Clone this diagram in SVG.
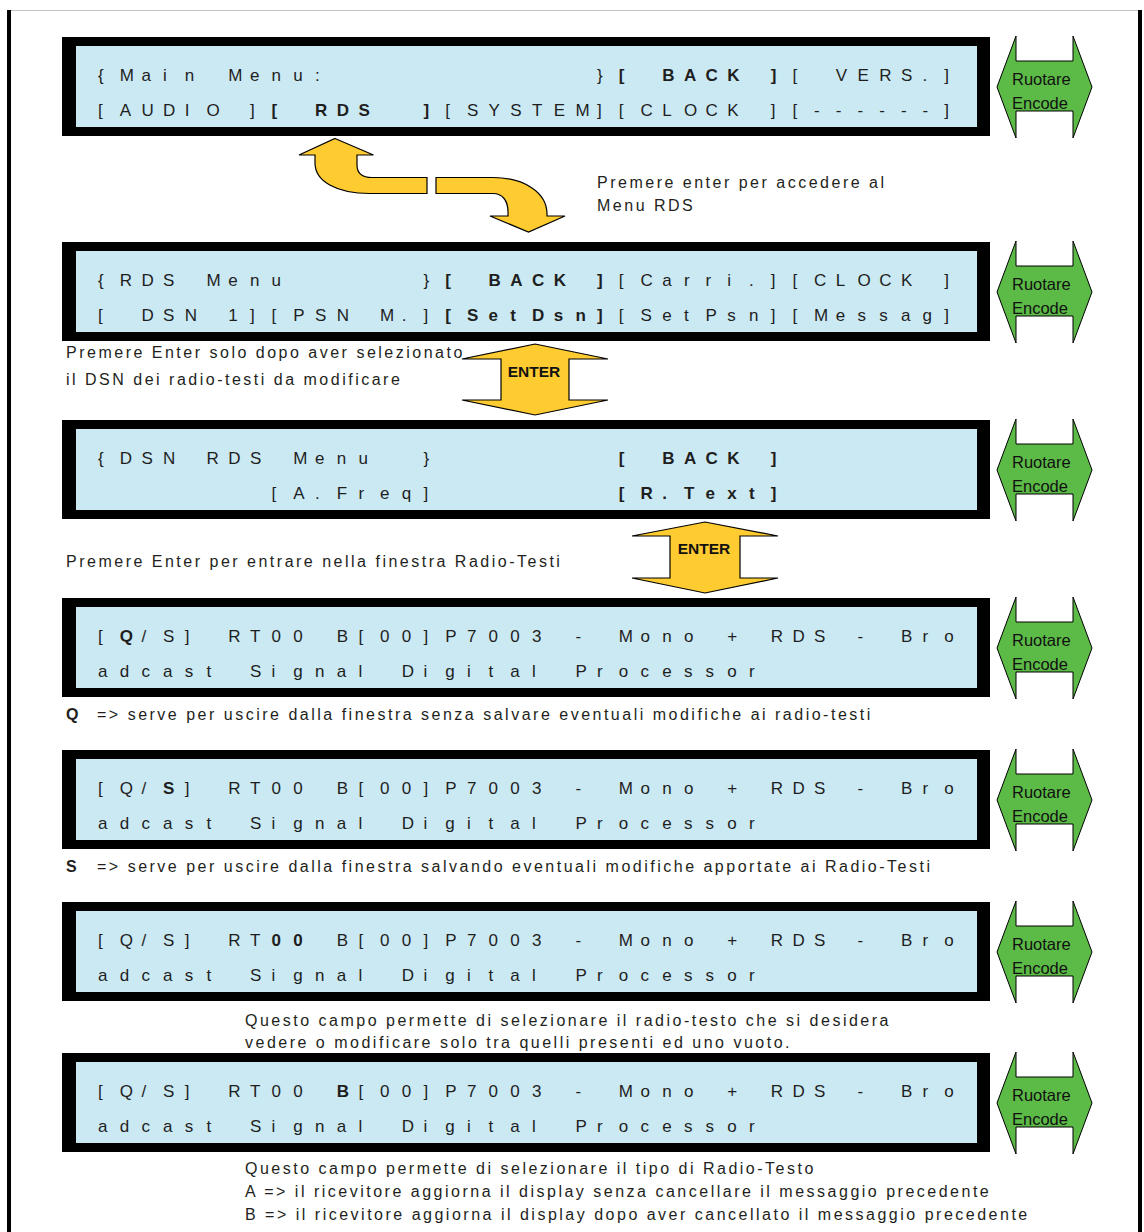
<svg xmlns="http://www.w3.org/2000/svg" width="1144" height="1232" viewBox="0 0 1144 1232">
<defs>
<style>
.frame{fill:#000}
.lcdbg{fill:#cbe9f3}
.lcd{font-family:"Liberation Sans",Arial,sans-serif;font-size:17px;fill:#1e1e1e;white-space:pre}
.b{font-weight:bold}
.enc{fill:#5cba47;stroke:#000;stroke-width:1}
.enct{font-family:"Liberation Sans",Arial,sans-serif;font-size:16.5px;fill:#111}
.yel{fill:#fecb30;stroke:#000;stroke-width:1.2}
.ent{font-family:"Liberation Sans",Arial,sans-serif;font-size:15.5px;font-weight:bold;fill:#111;text-anchor:middle}
.t{font-family:"Liberation Sans",Arial,sans-serif;font-size:16px;letter-spacing:2.5px;fill:#231f20}
</style>
<g id="lcdShape"><rect class="frame" x="62" y="0" width="928" height="99"/><rect class="lcdbg" x="76" y="9" width="901" height="81"/></g>
<polygon id="encShape" class="enc" points="997,50 1016,-1 1016,24 1073,24 1073,-1 1092,50 1073,101 1073,74 1016,74 1016,101"/>
</defs>
<rect x="0" y="0" width="1144" height="1232" fill="#fff"/>
<line x1="7" y1="10.5" x2="1142" y2="10.5" stroke="#c4c4c4" stroke-width="1"/>
<rect x="7" y="10" width="4" height="1222" fill="#000"/>
<rect x="1138" y="10" width="4" height="1222" fill="#000"/>

<g id="display1">
<use href="#lcdShape" y="37"/>
<text class="lcd" xml:space="preserve" y="80.5" x="98 119.7 141.4 163.1 184.8 206.5 228.2 249.9 271.6 293.3 315 336.7 358.4 380.1 401.8 423.5 445.2 466.9 488.6 510.3 532 553.7 575.4 597.1 618.8 640.5 662.2 683.9 705.6 727.3 749 770.7 792.4 814.1 835.8 857.5 879.2 900.9 922.6 944.3">{Main Menu:            }<tspan class="b">[ BACK ]</tspan>[ VERS.]</text>
<text class="lcd" xml:space="preserve" y="115.5" x="98 119.7 141.4 163.1 184.8 206.5 228.2 249.9 271.6 293.3 315 336.7 358.4 380.1 401.8 423.5 445.2 466.9 488.6 510.3 532 553.7 575.4 597.1 618.8 640.5 662.2 683.9 705.6 727.3 749 770.7 792.4 814.1 835.8 857.5 879.2 900.9 922.6 944.3">[AUDIO ]<tspan class="b">[ RDS  ]</tspan>[SYSTEM][CLOCK ][------]</text>
</g>
<g id="encoder1"><use href="#encShape" y="37"/><text class="enct" x="1012" y="85">Ruotare</text><text class="enct" x="1012" y="108.5">Encode</text></g>

<g id="display2">
<use href="#lcdShape" y="242"/>
<text class="lcd" xml:space="preserve" y="285.5" x="98 119.7 141.4 163.1 184.8 206.5 228.2 249.9 271.6 293.3 315 336.7 358.4 380.1 401.8 423.5 445.2 466.9 488.6 510.3 532 553.7 575.4 597.1 618.8 640.5 662.2 683.9 705.6 727.3 749 770.7 792.4 814.1 835.8 857.5 879.2 900.9 922.6 944.3">{RDS Menu      }<tspan class="b">[ BACK ]</tspan>[Carri.][CLOCK ]</text>
<text class="lcd" xml:space="preserve" y="320.5" x="98 119.7 141.4 163.1 184.8 206.5 228.2 249.9 271.6 293.3 315 336.7 358.4 380.1 401.8 423.5 445.2 466.9 488.6 510.3 532 553.7 575.4 597.1 618.8 640.5 662.2 683.9 705.6 727.3 749 770.7 792.4 814.1 835.8 857.5 879.2 900.9 922.6 944.3">[ DSN 1][PSN M.]<tspan class="b">[SetDsn]</tspan>[SetPsn][Messag]</text>
</g>
<g id="encoder2"><use href="#encShape" y="242"/><text class="enct" x="1012" y="290">Ruotare</text><text class="enct" x="1012" y="313.5">Encode</text></g>

<g id="display3">
<use href="#lcdShape" y="420"/>
<text class="lcd" xml:space="preserve" y="463.5" x="98 119.7 141.4 163.1 184.8 206.5 228.2 249.9 271.6 293.3 315 336.7 358.4 380.1 401.8 423.5 445.2 466.9 488.6 510.3 532 553.7 575.4 597.1 618.8 640.5 662.2 683.9 705.6 727.3 749 770.7 792.4 814.1 835.8 857.5 879.2 900.9 922.6 944.3">{DSN RDS Menu  }        <tspan class="b">[ BACK ]</tspan></text>
<text class="lcd" xml:space="preserve" y="498.5" x="98 119.7 141.4 163.1 184.8 206.5 228.2 249.9 271.6 293.3 315 336.7 358.4 380.1 401.8 423.5 445.2 466.9 488.6 510.3 532 553.7 575.4 597.1 618.8 640.5 662.2 683.9 705.6 727.3 749 770.7 792.4 814.1 835.8 857.5 879.2 900.9 922.6 944.3">        [A.Freq]        <tspan class="b">[R.Text]</tspan></text>
</g>
<g id="encoder3"><use href="#encShape" y="420"/><text class="enct" x="1012" y="468">Ruotare</text><text class="enct" x="1012" y="491.5">Encode</text></g>

<g id="display4">
<use href="#lcdShape" y="598"/>
<text class="lcd" xml:space="preserve" y="641.5" x="98 119.7 141.4 163.1 184.8 206.5 228.2 249.9 271.6 293.3 315 336.7 358.4 380.1 401.8 423.5 445.2 466.9 488.6 510.3 532 553.7 575.4 597.1 618.8 640.5 662.2 683.9 705.6 727.3 749 770.7 792.4 814.1 835.8 857.5 879.2 900.9 922.6 944.3">[<tspan class="b">Q</tspan>/S] RT00 B[00]P7003 - Mono + RDS - Bro</text>
<text class="lcd" xml:space="preserve" y="676.5" x="98 119.7 141.4 163.1 184.8 206.5 228.2 249.9 271.6 293.3 315 336.7 358.4 380.1 401.8 423.5 445.2 466.9 488.6 510.3 532 553.7 575.4 597.1 618.8 640.5 662.2 683.9 705.6 727.3 749 770.7 792.4 814.1 835.8 857.5 879.2 900.9 922.6 944.3">adcast Signal Digital Processor</text>
</g>
<g id="encoder4"><use href="#encShape" y="598"/><text class="enct" x="1012" y="646">Ruotare</text><text class="enct" x="1012" y="669.5">Encode</text></g>

<g id="display5">
<use href="#lcdShape" y="750"/>
<text class="lcd" xml:space="preserve" y="793.5" x="98 119.7 141.4 163.1 184.8 206.5 228.2 249.9 271.6 293.3 315 336.7 358.4 380.1 401.8 423.5 445.2 466.9 488.6 510.3 532 553.7 575.4 597.1 618.8 640.5 662.2 683.9 705.6 727.3 749 770.7 792.4 814.1 835.8 857.5 879.2 900.9 922.6 944.3">[Q/<tspan class="b">S</tspan>] RT00 B[00]P7003 - Mono + RDS - Bro</text>
<text class="lcd" xml:space="preserve" y="828.5" x="98 119.7 141.4 163.1 184.8 206.5 228.2 249.9 271.6 293.3 315 336.7 358.4 380.1 401.8 423.5 445.2 466.9 488.6 510.3 532 553.7 575.4 597.1 618.8 640.5 662.2 683.9 705.6 727.3 749 770.7 792.4 814.1 835.8 857.5 879.2 900.9 922.6 944.3">adcast Signal Digital Processor</text>
</g>
<g id="encoder5"><use href="#encShape" y="750"/><text class="enct" x="1012" y="798">Ruotare</text><text class="enct" x="1012" y="821.5">Encode</text></g>

<g id="display6">
<use href="#lcdShape" y="902"/>
<text class="lcd" xml:space="preserve" y="945.5" x="98 119.7 141.4 163.1 184.8 206.5 228.2 249.9 271.6 293.3 315 336.7 358.4 380.1 401.8 423.5 445.2 466.9 488.6 510.3 532 553.7 575.4 597.1 618.8 640.5 662.2 683.9 705.6 727.3 749 770.7 792.4 814.1 835.8 857.5 879.2 900.9 922.6 944.3">[Q/S] RT<tspan class="b">00</tspan> B[00]P7003 - Mono + RDS - Bro</text>
<text class="lcd" xml:space="preserve" y="980.5" x="98 119.7 141.4 163.1 184.8 206.5 228.2 249.9 271.6 293.3 315 336.7 358.4 380.1 401.8 423.5 445.2 466.9 488.6 510.3 532 553.7 575.4 597.1 618.8 640.5 662.2 683.9 705.6 727.3 749 770.7 792.4 814.1 835.8 857.5 879.2 900.9 922.6 944.3">adcast Signal Digital Processor</text>
</g>
<g id="encoder6"><use href="#encShape" y="902"/><text class="enct" x="1012" y="950">Ruotare</text><text class="enct" x="1012" y="973.5">Encode</text></g>

<g id="display7">
<use href="#lcdShape" y="1053"/>
<text class="lcd" xml:space="preserve" y="1096.5" x="98 119.7 141.4 163.1 184.8 206.5 228.2 249.9 271.6 293.3 315 336.7 358.4 380.1 401.8 423.5 445.2 466.9 488.6 510.3 532 553.7 575.4 597.1 618.8 640.5 662.2 683.9 705.6 727.3 749 770.7 792.4 814.1 835.8 857.5 879.2 900.9 922.6 944.3">[Q/S] RT00 <tspan class="b">B</tspan>[00]P7003 - Mono + RDS - Bro</text>
<text class="lcd" xml:space="preserve" y="1131.5" x="98 119.7 141.4 163.1 184.8 206.5 228.2 249.9 271.6 293.3 315 336.7 358.4 380.1 401.8 423.5 445.2 466.9 488.6 510.3 532 553.7 575.4 597.1 618.8 640.5 662.2 683.9 705.6 727.3 749 770.7 792.4 814.1 835.8 857.5 879.2 900.9 922.6 944.3">adcast Signal Digital Processor</text>
</g>
<g id="encoder7"><use href="#encShape" y="1053"/><text class="enct" x="1012" y="1101">Ruotare</text><text class="enct" x="1012" y="1124.5">Encode</text></g>

<g id="connectors">
<path class="yel" d="M335,138.5 L373.5,155 L357,155 L357,165 C357,173 362,177.5 372,177.5 L427,177.5 L427,193.5 L370,193.5 C336,193.5 315,181 315,163 L315,155 L299,155 Z"/>
<path class="yel" d="M436,177.5 L493,177.5 C523,177.5 547,192 547,214 L547,216 L565,216 L528.5,232 L490,216 L508,216 L508,212 C508,200 502,193.5 493,193.5 L436,193.5 Z"/>
<g id="enter1"><polygon class="yel" points="535,344 608,359 569,359 569,400 608,400 535,415 462,400 501,400 501,359 462,359"/><text class="ent" x="534" y="377">ENTER</text></g>
<g id="enter2"><polygon class="yel" points="705,522 778,536 740,536 740,578 778,578 705,593 632,578 670,578 670,536 632,536"/><text class="ent" x="704" y="553.5">ENTER</text></g>
</g>

<g id="notes">
<text class="t" x="597" y="188">Premere enter per accedere al</text>
<text class="t" x="597" y="211">Menu RDS</text>
<text class="t" x="66" y="358">Premere Enter solo dopo aver selezionato</text>
<text class="t" x="66" y="385">il DSN dei radio-testi da modificare</text>
<text class="t" x="66" y="567">Premere Enter per entrare nella finestra Radio-Testi</text>
<text class="t" x="66" y="720"><tspan class="b">Q</tspan> <tspan x="97">=&gt; serve per uscire dalla finestra senza salvare eventuali modifiche ai radio-testi</tspan></text>
<text class="t" x="66" y="872"><tspan class="b">S</tspan> <tspan x="97">=&gt; serve per uscire dalla finestra salvando eventuali modifiche apportate ai Radio-Testi</tspan></text>
<text class="t" x="245" y="1026">Questo campo permette di selezionare il radio-testo che si desidera</text>
<text class="t" x="245" y="1048">vedere o modificare solo tra quelli presenti ed uno vuoto.</text>
<text class="t" x="245" y="1174">Questo campo permette di selezionare il tipo di Radio-Testo</text>
<text class="t" x="245" y="1197">A =&gt; il ricevitore aggiorna il display senza cancellare il messaggio precedente</text>
<text class="t" x="245" y="1220">B =&gt; il ricevitore aggiorna il display dopo aver cancellato il messaggio precedente</text>
</g>
</svg>
